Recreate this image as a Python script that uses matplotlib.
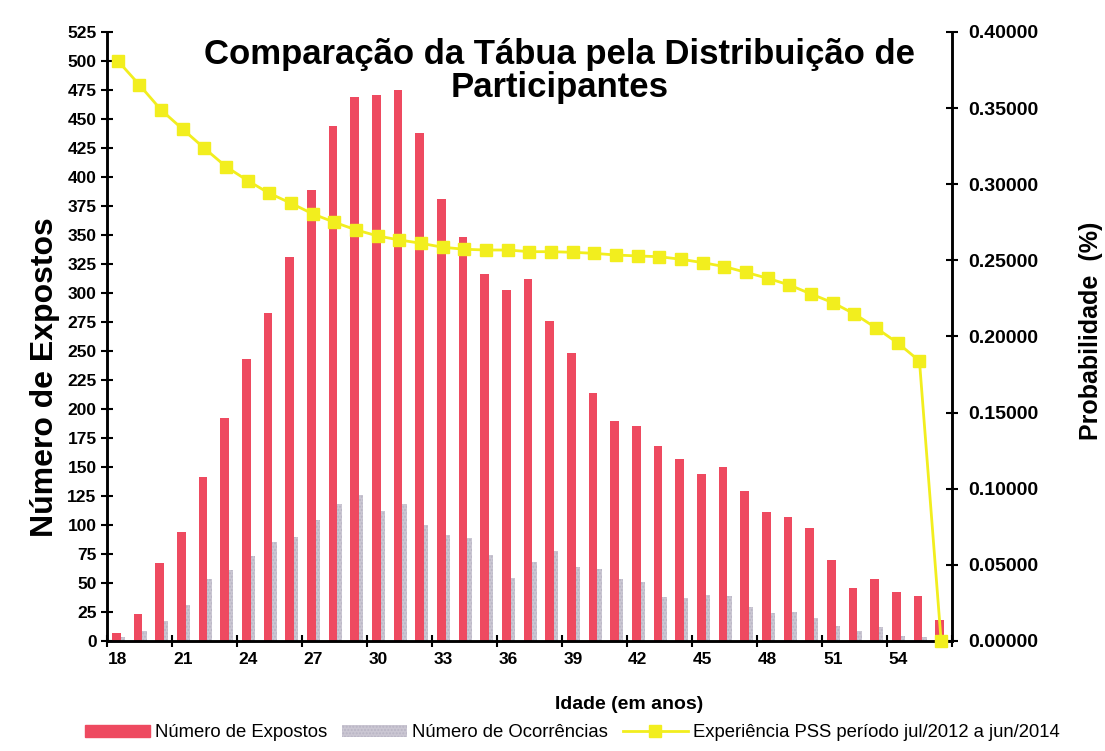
import matplotlib
matplotlib.use("Agg")
import matplotlib.pyplot as plt
import numpy as np
from matplotlib.patches import Patch
from matplotlib.lines import Line2D

ages = list(range(18, 57))
expostos = [7, 23, 67, 94, 141, 192, 243, 283, 331, 389, 444, 469, 471, 475, 438,
            381, 348, 316, 303, 312, 276, 248, 214, 190, 185, 168, 157, 144, 150,
            129, 111, 107, 97, 70, 46, 53, 42, 39, 18]
ocorrencias = [3, 9, 17, 31, 53, 61, 73, 85, 90, 104, 118, 126, 112, 118, 100,
               91, 89, 74, 54, 68, 78, 64, 62, 53, 51, 38, 37, 40, 39, 29, 24,
               25, 20, 13, 9, 12, 4, 3, 2]
pss = [0.3811, 0.3652, 0.3488, 0.3361, 0.3236, 0.3115, 0.3023, 0.2940, 0.2875,
       0.2805, 0.2750, 0.2700, 0.2660, 0.2634, 0.2612, 0.2586, 0.2573, 0.2568,
       0.2568, 0.2557, 0.2557, 0.2553, 0.2546, 0.2535, 0.2529, 0.2524, 0.2507,
       0.2485, 0.2459, 0.2421, 0.2382, 0.2338, 0.2279, 0.2222, 0.2148, 0.2056,
       0.1957, 0.1839, 0.0]
xtick_labels = list(range(18, 55, 3))

plt.rcParams['font.family'] = ['Liberation Sans', 'DejaVu Sans']

fig = plt.figure(figsize=(11.05, 7.51), dpi=100)
ax = fig.add_axes([0.0968, 0.1465, 0.7647, 0.8109])
ax2 = ax.twinx()

red = '#EE4A60'
gray = '#CBC7D3'
yellow = '#F2EE1E'

x = np.arange(len(ages))
w_red = 0.40
w_gray = 0.20
ax.bar(x - 0.26, expostos, width=w_red, color=red, align='edge', zorder=2)
ax.bar(x + 0.14, ocorrencias, width=w_gray, color=gray, align='edge', zorder=2,
       hatch='.....', edgecolor='#B8B4C4', linewidth=0)

ax2.plot(x, pss, color=yellow, marker='s', markersize=9, linewidth=2, zorder=3,
         clip_on=False)

ax.set_xlim(-0.5, len(ages) - 0.5)
ax.set_ylim(0, 525)
ax2.set_ylim(0, 0.40)

ax.set_yticks(np.arange(0, 526, 25))
ax2.set_yticks(np.arange(0, 0.4001, 0.05))
ax2.set_yticklabels([f"{v:.5f}" for v in np.arange(0, 0.4001, 0.05)])

label_pos = [ages.index(a) for a in xtick_labels]
ax.set_xticks(label_pos)
ax.set_xticklabels([str(a) for a in xtick_labels])
ax.set_xticks(np.arange(-0.5, len(ages), 3), minor=True)
ax.tick_params(axis='x', which='major', length=0, pad=8)
ax.tick_params(axis='x', which='minor', direction='inout', length=8, width=1.5)
ax.tick_params(axis='y', direction='inout', length=8, width=1.5)
ax2.tick_params(axis='y', direction='inout', length=8, width=1.5, pad=8)

for a in (ax, ax2):
    a.spines['top'].set_visible(False)
    for s in ('left', 'right', 'bottom'):
        a.spines[s].set_linewidth(1.8)

for lab in ax.get_xticklabels() + ax.get_yticklabels():
    lab.set_fontweight('bold')
    lab.set_fontsize(12.5)
for lab in ax2.get_yticklabels():
    lab.set_fontweight('bold')
    lab.set_fontsize(14)

ax.set_ylabel('Número de Expostos', fontsize=23, fontweight='bold')
ax.yaxis.set_label_coords(-0.056, 0.433)
ax2.set_ylabel('Probabilidade  (%)', fontsize=18, fontweight='bold')
ax2.yaxis.set_label_coords(1.150, 0.51)
ax.set_xlabel('Idade (em anos)', fontsize=14, fontweight='bold')
ax.xaxis.set_label_coords(0.618, -0.09)

ax.text(0.536, 0.99, 'Comparação da Tábua pela Distribuição de\nParticipantes',
        transform=ax.transAxes, ha='center', va='top', fontsize=25,
        fontweight='heavy', linespacing=1.0, zorder=5)

handles = [Patch(facecolor=red, edgecolor=red),
           Patch(facecolor=gray, edgecolor='#B8B4C4', hatch='.....', linewidth=0),
           Line2D([0], [0], color=yellow, marker='s', markersize=9, linewidth=2)]
labels = ['Número de Expostos', 'Número de Ocorrências',
          'Experiência PSS período jul/2012 a jun/2014']
fig.legend(handles, labels, loc='center', bbox_to_anchor=(0.518, 0.024), ncol=3,
           frameon=False, handlelength=3.5, handletextpad=0.3,
           columnspacing=0.8, prop={'family': ['Liberation Sans Narrow', 'Liberation Sans'], 'size': 13.3})

fig.savefig('out.png', dpi=100)
